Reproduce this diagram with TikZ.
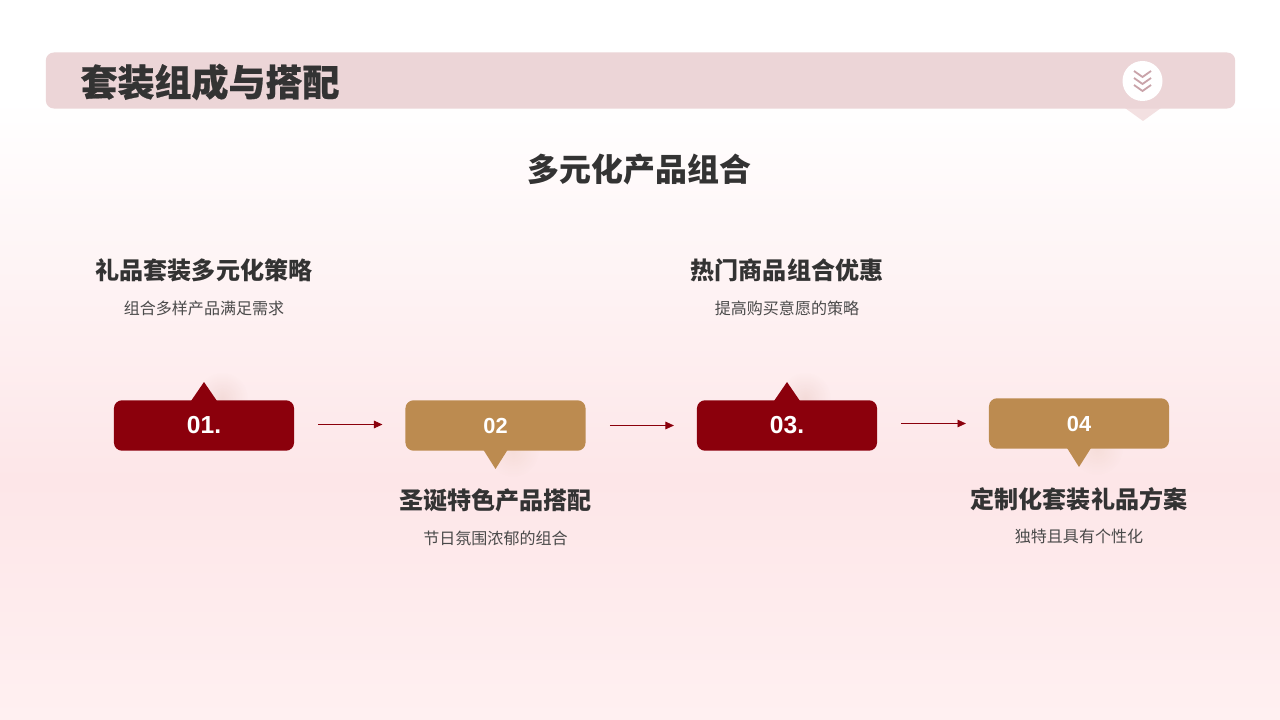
\documentclass[tikz,border=0pt]{standalone}
\usepackage{fontspec}
\setmainfont{Liberation Sans}
\newfontfamily\cjk{Noto Sans CJK SC}
\newfontfamily\cjkheavy{Noto Sans CJK SC}[FakeBold=0.6]
\usetikzlibrary{arrows.meta,fadings}
\tikzfading[name=softglow, inner color=transparent!65, outer color=transparent!100]
\definecolor{barpink}{HTML}{ECD5D7}
\definecolor{tippink}{HTML}{F3E0E1}
\definecolor{chevron}{HTML}{C9A3A9}
\definecolor{darkred}{HTML}{8B000C}
\definecolor{tan}{HTML}{BC8B50}
\definecolor{inkgray}{HTML}{333333}
\definecolor{notegray}{HTML}{4A4A4A}
\definecolor{bgmid}{HTML}{FDE6E8}
\definecolor{bgend}{HTML}{FFF0F1}
\tikzset{
    numbox/.style={rectangle, rounded corners=0.2cm, minimum width=4.5cm, minimum height=1.26cm, inner sep=0pt, text=white, font=\bfseries\fontsize{17}{20}\selectfont},
    heading/.style={text=inkgray, font=\cjk\bfseries\fontsize{17.1}{20}\selectfont},
    note/.style={text=notegray, font=\cjk\fontsize{11.4}{14}\selectfont},
    flowarrow/.style={-{Triangle[length=2.1mm,width=1.9mm]}, darkred, line width=0.55pt, shorten <=0.6cm, shorten >=0.57cm},
    glow/.style={opacity=0.3, path fading=softglow},
}
\begin{document}
\begin{tikzpicture}[x=0.025cm, y=-0.025cm]
    \useasboundingbox (0, 0) rectangle (1280, 720);
    % Background and header bar:
    \fill[white] (0, 0) rectangle (1280, 101);
    \shade[top color=white, bottom color=bgmid] (0, 100) rectangle (1280, 480);
    \shade[top color=bgmid, bottom color=bgend] (0, 479) rectangle (1280, 720);
    \fill[tippink] (1125, 108) -- (1143, 121) -- (1161, 108) -- cycle;
    \node[rectangle, fill=barpink, rounded corners=0.2cm, minimum width=29.725cm, minimum height=1.4cm, inner sep=0pt] (bar) at (640.5, 80.5) {};
    \node[circle, fill=white, minimum size=1cm, inner sep=0pt] (badge) at (1142.5, 81) {};
    \draw[chevron, line width=1.3pt] (1134, 71) -- (1142.5, 77) -- (1151, 71);
    \draw[chevron, line width=1.3pt] (1134, 78) -- (1142.5, 84) -- (1151, 78);
    \draw[chevron, line width=1.3pt] (1134, 85) -- (1142.5, 91) -- (1151, 85);
    % Titles:
    \node[text=inkgray, font=\cjkheavy\bfseries\fontsize{26.3}{30}\selectfont] (title) at (210, 82) {套装组成与搭配};
    \node[text=inkgray, font=\cjk\bfseries\fontsize{22.7}{26}\selectfont] (subtitle) at (639.5, 170) {多元化产品组合};
    % Soft glow beside the tips:
    \fill[darkred!40!tan, glow] (222, 398) circle (26);
    \fill[tan, glow] (513, 451) circle (26);
    \fill[darkred!40!tan, glow] (805, 398) circle (26);
    \fill[tan, glow] (1097, 449) circle (26);
    % Boxes and tips:
    \node[numbox, fill=darkred, font=\bfseries\fontsize{17.5}{20}\selectfont] (box1) at (204, 425.5) {\raisebox{-0.025cm}{01.}};
    \node[numbox, fill=tan, font=\bfseries\fontsize{15.5}{20}\selectfont] (box2) at (495.5, 425.5) {02};
    \node[numbox, fill=darkred, font=\bfseries\fontsize{17.5}{20}\selectfont] (box3) at (787, 425.5) {\raisebox{-0.025cm}{03.}};
    \node[numbox, fill=tan, font=\bfseries\fontsize{15.5}{20}\selectfont] (box4) at (1079, 423.5) {04};
    \fill[darkred] (box1.north) ++(-13, 1) -- ++(13, -19) -- ++(13, 19) -- cycle;
    \fill[tan] (box2.south) ++(-12, -1) -- ++(12, 19) -- ++(12, -19) -- cycle;
    \fill[darkred] (box3.north) ++(-13, 1) -- ++(13, -19) -- ++(13, 19) -- cycle;
    \fill[tan] (box4.south) ++(-12, -1) -- ++(12, 19) -- ++(12, -19) -- cycle;
    % Arrows:
    \draw[flowarrow] ([yshift=0.025cm]box1.east) -- ([yshift=0.025cm]box2.west);
    \draw[flowarrow] (box2.east) -- (box3.west);
    \draw[flowarrow] (box3.east |- box4.west) -- (box4.west);
    % Labels:
    \node[heading] (head1) at (204, 270.5) {礼品套装多元化策略};
    \node[note] (note1) at (204, 308.5) {组合多样产品满足需求};
    \node[heading] (head2) at (495.5, 500.5) {圣诞特色产品搭配};
    \node[note] (note2) at (495.5, 538.5) {节日氛围浓郁的组合};
    \node[heading] (head3) at (787, 270.5) {热门商品组合优惠};
    \node[note] (note3) at (787, 308.5) {提高购买意愿的策略};
    \node[heading] (head4) at (1079, 499.5) {定制化套装礼品方案};
    \node[note] (note4) at (1079, 536.5) {独特且具有个性化};
\end{tikzpicture}
\end{document}
